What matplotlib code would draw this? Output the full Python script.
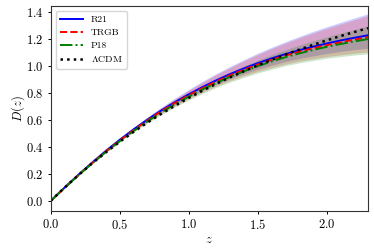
import matplotlib
matplotlib.use('Agg')
import matplotlib.pyplot as plt
import numpy as np

plt.rcParams['font.family'] = 'serif'
plt.rcParams['font.serif'] = ['cmr10']
plt.rcParams['mathtext.fontset'] = 'cm'
plt.rcParams['axes.formatter.use_mathtext'] = True

# redshift grid and D(z)
z = [0.0, 0.1, 0.2, 0.3, 0.4, 0.5, 0.6, 0.7, 0.8, 0.9, 1.0, 1.1,
     1.2, 1.3, 1.4, 1.5, 1.6, 1.7, 1.8, 1.9, 2.0, 2.1, 2.2, 2.3]
d_r21 = [0.0, 0.098, 0.193, 0.284, 0.371, 0.453, 0.530, 0.602, 0.670, 0.732, 0.790, 0.844,
         0.894, 0.940, 0.982, 1.021, 1.056, 1.088, 1.117, 1.143, 1.167, 1.189, 1.209, 1.228]
d_trgb = [0.0, 0.097, 0.191, 0.281, 0.367, 0.448, 0.525, 0.596, 0.664, 0.726, 0.783, 0.836,
          0.886, 0.931, 0.973, 1.011, 1.046, 1.077, 1.106, 1.131, 1.155, 1.176, 1.196, 1.214]
d_p18 = [0.0, 0.096, 0.189, 0.278, 0.363, 0.443, 0.518, 0.589, 0.655, 0.716, 0.773, 0.826,
         0.875, 0.920, 0.961, 0.999, 1.033, 1.065, 1.093, 1.119, 1.142, 1.163, 1.182, 1.200]
d_lcdm = [0.0, 0.098, 0.190, 0.278, 0.360, 0.438, 0.511, 0.580, 0.645, 0.705, 0.763, 0.817,
          0.868, 0.916, 0.961, 1.004, 1.045, 1.084, 1.121, 1.156, 1.190, 1.222, 1.252, 1.281]

# band widths above / below the curves
w_wide = [0.0, 0.0007, 0.0024, 0.005, 0.008, 0.0102, 0.014, 0.019, 0.024, 0.030, 0.036, 0.043,
          0.050, 0.057, 0.065, 0.074, 0.083, 0.092, 0.102, 0.113, 0.124, 0.135, 0.147, 0.160]
w_mid = [0.0, 0.0005, 0.0017, 0.0035, 0.0055, 0.007, 0.0096, 0.013, 0.0165, 0.021, 0.025, 0.030,
         0.034, 0.039, 0.045, 0.051, 0.057, 0.063, 0.070, 0.078, 0.085, 0.093, 0.101, 0.110]
w_narrow = [0.0, 0.0004, 0.0014, 0.003, 0.005, 0.006, 0.008, 0.011, 0.014, 0.018, 0.022, 0.026,
            0.030, 0.034, 0.039, 0.044, 0.050, 0.055, 0.061, 0.068, 0.074, 0.081, 0.088, 0.096]

fig = plt.figure(figsize=(3.74, 2.49), dpi=100)
ax = fig.add_axes([0.1356, 0.1526, 0.8484, 0.8244])

bands = [(d_r21, w_narrow, w_wide, 'blue'),
         (d_trgb, w_mid, w_wide, 'red'),
         (d_p18, w_mid, w_narrow, 'green')]
for d, lo, hi, c in bands:
    d = np.array(d)
    ax.fill_between(z, d - np.array(lo), d + np.array(hi), color=c, alpha=0.2, lw=0)

ax.plot(z, d_r21, color='blue', ls='-', lw=1.4, label='R21')
ax.plot(z, d_trgb, color='red', ls='--', lw=1.4, label='TRGB')
ax.plot(z, d_p18, color='green', ls='-.', lw=1.4, label='P18')
ax.plot(z, d_lcdm, color='black', ls=':', lw=1.8, label=r'$\Lambda$CDM')

ax.set_xlim(0, 2.3)
ax.set_ylim(-0.075, 1.447)
ax.set_xticks([0.0, 0.5, 1.0, 1.5, 2.0])
ax.set_yticks([0.0, 0.2, 0.4, 0.6, 0.8, 1.0, 1.2, 1.4])
ax.tick_params(labelsize=9, length=2.5, width=0.7, pad=2.5)
for s in ax.spines.values():
    s.set_linewidth(0.8)
    s.set_color('#333333')
ax.set_xlabel('$z$', fontsize=9)
ax.set_ylabel('$D(z)$', fontsize=9)
ax.xaxis.set_label_coords(0.5, -0.11)
ax.yaxis.set_label_coords(-0.075, 0.5)
ax.legend(loc='upper left', fontsize=7, handlelength=2.3, borderpad=0.5, labelspacing=0.42)

fig.savefig('out.png', dpi=100)
